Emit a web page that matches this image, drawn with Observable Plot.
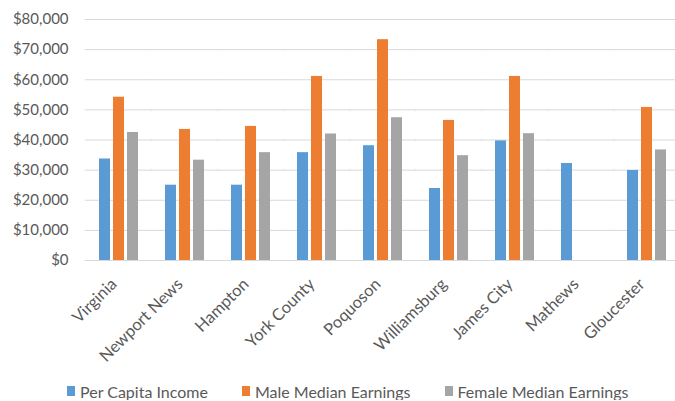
<!DOCTYPE html>
<html>
<head>
<meta charset="utf-8">
<script src="https://cdn.jsdelivr.net/npm/d3@7"></script>
<script src="https://cdn.jsdelivr.net/npm/@observablehq/plot@0.6"></script>
<style>
  body { margin: 0; background: white; }
  #chart svg { display: block; }
  .legend { display: flex; align-items: center; padding-left: 67px; padding-top: 12px; height: 18px; font-family: Lato, sans-serif; font-size: 16px; color: #595959; }
  .legend .item { display: flex; align-items: center; margin-right: 34px; }
  .legend .sw { width: 8px; height: 10px; margin-right: 5px; }
</style>
</head>
<body>
<div id="chart"></div>
<script>
const categories = ["Virginia", "Newport News", "Hampton", "York County", "Poquoson", "Williamsburg", "James City", "Mathews", "Gloucester"];
const seriesNames = ["Per Capita Income", "Male Median Earnings", "Female Median Earnings"];
const seriesColors = ["#5B9BD5", "#ED7D31", "#A5A5A5"];
const perCapitaIncome = [33700, 25000, 25000, 35800, 38100, 23900, 39700, 32200, 29900];
const maleMedianEarnings = [54200, 43500, 44500, 61100, 73300, 46500, 61100, null, 50800];
const femaleMedianEarnings = [42500, 33300, 35800, 42000, 47400, 34800, 42100, null, 36700];
const yTicks = [0, 10000, 20000, 30000, 40000, 50000, 60000, 70000, 80000];

const seriesValues = [perCapitaIncome, maleMedianEarnings, femaleMedianEarnings];
const data = [];
categories.forEach((c, i) => {
  seriesNames.forEach((s, j) => {
    const v = seriesValues[j][i];
    if (v != null) data.push({category: c, series: s, value: v});
  });
});

const fmt = d => "$" + d3.format(",")(d);

const W = 675, ML = 82, MR = 0;
const padOuter = 0.15, padInner = 0.383, fxAlign = 0.65;
const step = (W - ML - MR) / (categories.length - padInner + 2 * padOuter);
const gridExtend = -(padInner / 2) * step - 0.5;
const leftOuter = 2 * padOuter * step * fxAlign;
const yLabelPad = leftOuter + 17;

const chart = Plot.plot({
  width: W,
  height: 370,
  marginLeft: ML,
  marginRight: MR,
  marginTop: 19,
  marginBottom: 110,
  style: {fontFamily: "Lato, sans-serif", fontSize: "15px", color: "#595959", background: "white"},
  fx: {domain: categories, paddingInner: padInner, paddingOuter: padOuter, align: fxAlign, label: null},
  x: {domain: seriesNames, paddingInner: 0.2, paddingOuter: 0, axis: null},
  y: {domain: [0, 80000], label: null},
  color: {domain: seriesNames, range: seriesColors},
  marks: [
    Plot.ruleY(yTicks, {stroke: "#d9d9d9", strokeWidth: 1, insetLeft: gridExtend, insetRight: gridExtend}),
    Plot.axisY({ticks: yTicks, tickSize: 0, tickPadding: yLabelPad, tickFormat: fmt, label: null, fontSize: 15}),
    Plot.axisFx({anchor: "bottom", tickRotate: -45, tickSize: 0, tickPadding: 21, dx: -5, label: null, fontSize: 16.5}),
    Plot.barY(data, {fx: "category", x: "series", y: "value", fill: "series"})
  ]
});
document.getElementById("chart").appendChild(chart);

const legend = document.createElement("div");
legend.className = "legend";
seriesNames.forEach((s, j) => {
  const item = document.createElement("div");
  item.className = "item";
  const sw = document.createElement("span");
  sw.className = "sw";
  sw.style.background = seriesColors[j];
  const t = document.createElement("span");
  t.textContent = s;
  item.appendChild(sw);
  item.appendChild(t);
  legend.appendChild(item);
});
document.getElementById("chart").appendChild(legend);
</script>
</body>
</html>
